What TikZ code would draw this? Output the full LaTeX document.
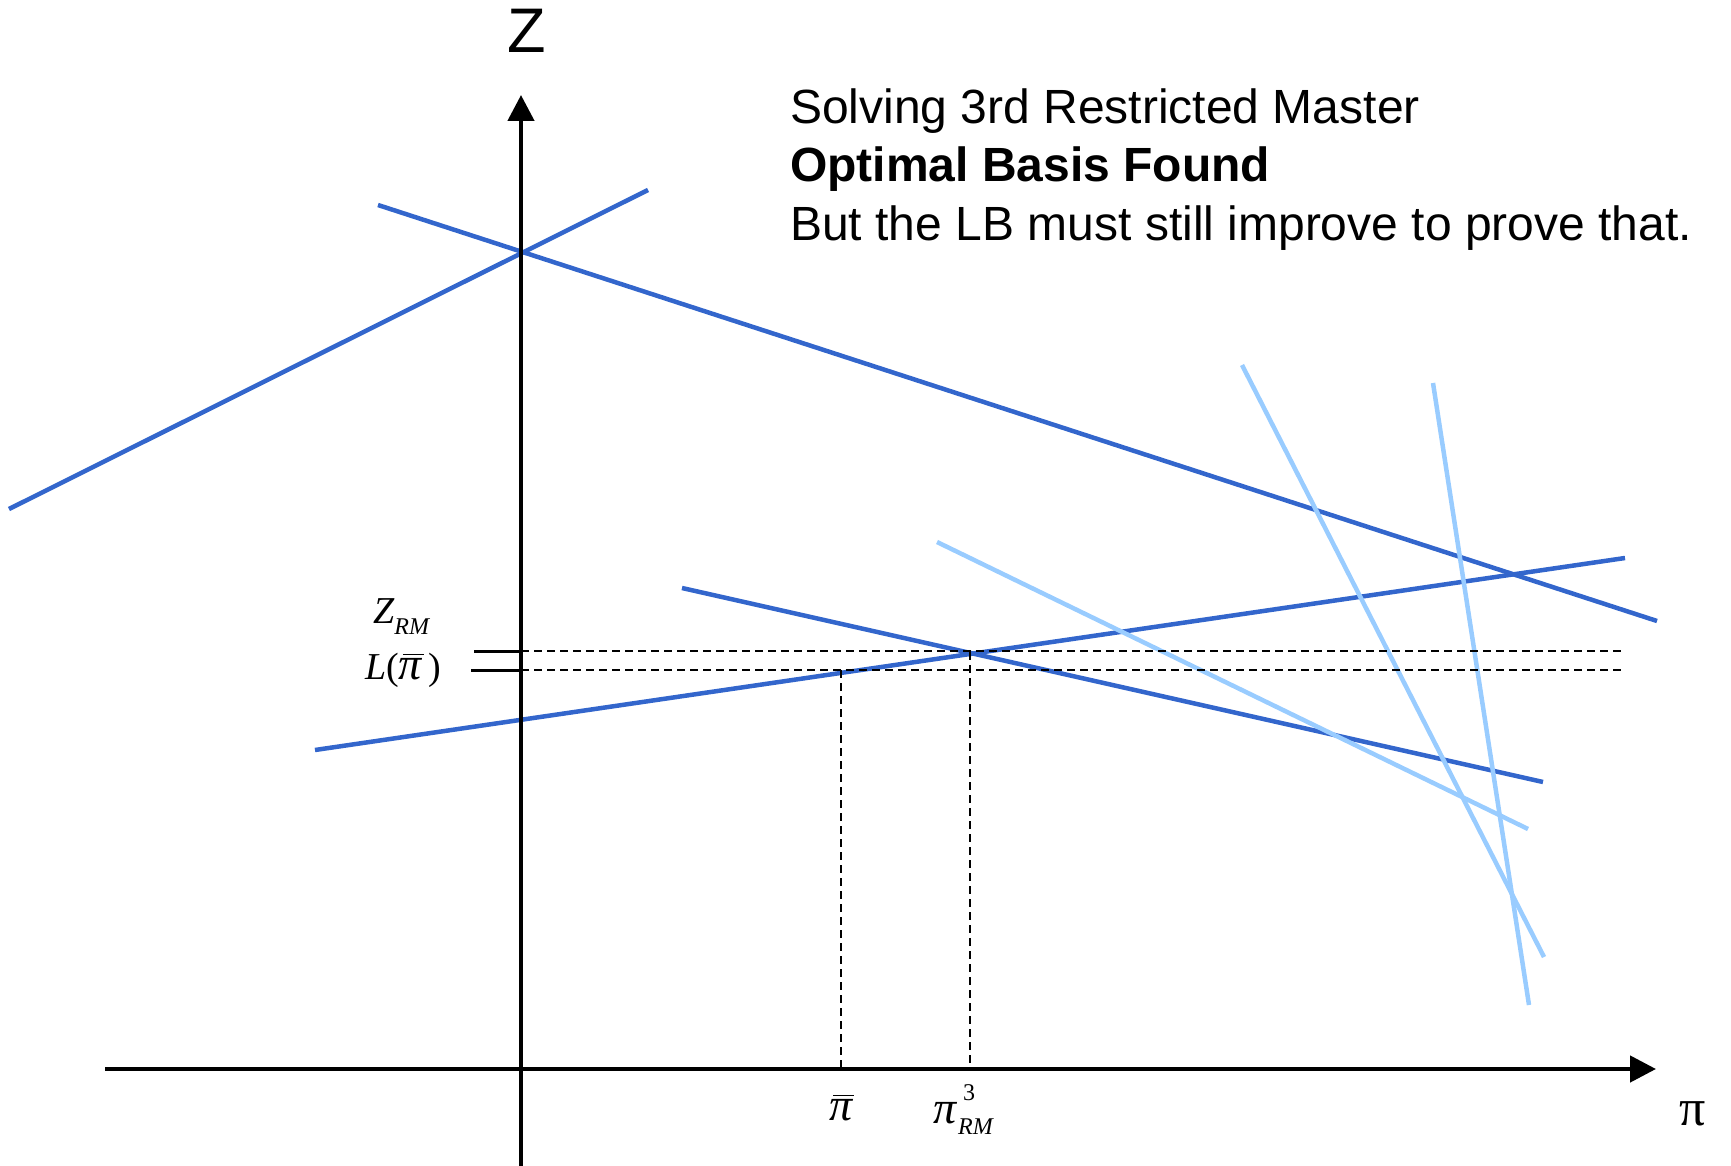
\documentclass[tikz,border=0pt]{standalone}
\usepackage{fontspec}
\setmainfont{Liberation Sans}
\newfontfamily\tms{Liberation Serif}
\usetikzlibrary{arrows.meta}
\definecolor{lineblue}{HTML}{3366CC}
\definecolor{lightblue}{HTML}{99CCFF}
\tikzset{
  axis/.style={line width=4.5pt, -{Triangle[length=26pt,width=26pt]}},
  cut/.style={line width=4.5pt, lineblue},
  lightcut/.style={line width=4.5pt, lightblue},
  guide/.style={line width=2pt, dash pattern=on 8pt off 5pt},
  tick/.style={line width=3pt},
  bigtxt/.style={inner sep=0pt, font=\fontsize{48}{58}\selectfont},
  mathlbl/.style={inner sep=0pt, font=\tms\itshape\fontsize{38}{38}\selectfont},
}
\newcommand{\smallsub}[1]{{\fontsize{24}{24}\selectfont #1}}
\newcommand{\bigpi}{{\fontsize{46}{46}\selectfont π}}
\newsavebox{\pibox}
\newcommand{\barpi}{\sbox{\pibox}{\bigpi}\rlap{\hspace{0.1em}\raisebox{0.62em}{\rule{0.92\wd\pibox}{0.045em}}}\usebox{\pibox}}
\begin{document}
\begin{tikzpicture}[x=1pt,y=-1pt]
\useasboundingbox (0,0) rectangle (1731,1166);
% coordinates
\coordinate (xs) at (105,1069);
\coordinate (xe) at (1656,1069);
\coordinate (ys) at (521,1166);
\coordinate (ye) at (521,95);
% blue cuts
\coordinate (a1) at (9,509);   \coordinate (a2) at (648,190);
\coordinate (b1) at (378,205); \coordinate (b2) at (1657,621);
\coordinate (c1) at (315,750); \coordinate (c2) at (1625,558);
\coordinate (d1) at (682,588); \coordinate (d2) at (1543,782);
% light cuts
\coordinate (e1) at (937,542);  \coordinate (e2) at (1528,829);
\coordinate (f1) at (1242,365); \coordinate (f2) at (1544,957);
\coordinate (g1) at (1433,383); \coordinate (g2) at (1529,1005);
% guides
\coordinate (h1) at (521,651); \coordinate (h2) at (1625,651);
\coordinate (k1) at (521,670); \coordinate (k2) at (1625,670);
\coordinate (t1) at (474,651); \coordinate (t2) at (471,670);
\coordinate (v1) at (841,670); \coordinate (v1b) at (841,1069);
\coordinate (v2) at (970,652); \coordinate (v2b) at (970,1069);

\draw[cut] (a1) -- (a2);
\draw[cut] (b1) -- (b2);
\draw[cut] (c1) -- (c2);
\draw[cut] (d1) -- (d2);
\draw[lightcut] (e1) -- (e2);
\draw[lightcut] (f1) -- (f2);
\draw[lightcut] (g1) -- (g2);

\draw[guide] (h1) -- (h2);
\draw[guide] (k1) -- (k2);
\draw[guide] (v1) -- (v1b);
\draw[guide] (v2) -- (v2b);
\draw[tick] (t1) -- (h1);
\draw[tick] (t2) -- (k1);

\draw[axis] (xs) -- (xe);
\draw[axis] (ys) -- (ye);

% labels
\node[inner sep=0pt, anchor=base, font=\fontsize{63}{63}\selectfont] (zlab) at (527,53) {Z};
\node[inner sep=0pt, anchor=base, font=\tms\fontsize{52}{52}\selectfont] (pilab) at (1693,1125) {π};
\node[mathlbl, anchor=base west] (zrm) at (373,623) {Z\raisebox{-0.3em}{\smallsub{RM}}};
\node[mathlbl, anchor=base west] (lpi) at (365,679) {L{\upshape(}\barpi\,{\upshape)}};
\node[mathlbl, anchor=base] (pibar) at (841,1120) {\barpi};
\node[mathlbl, anchor=base west] (pirm) at (933,1123) {\bigpi\rlap{\hspace{0.18em}\raisebox{0.6em}{\smallsub{\upshape 3}}}\hspace{0.05em}\raisebox{-0.3em}{\smallsub{RM}}};

\node[bigtxt, anchor=base west] (t1n) at (790,124) {Solving 3rd Restricted Master};
\node[bigtxt, anchor=base west, font=\bfseries\fontsize{48}{58}\selectfont] (t2n) at (790,182) {Optimal Basis Found};
\node[bigtxt, anchor=base west] (t3n) at (790,241) {But the LB must still improve to prove that.};
\end{tikzpicture}
\end{document}
